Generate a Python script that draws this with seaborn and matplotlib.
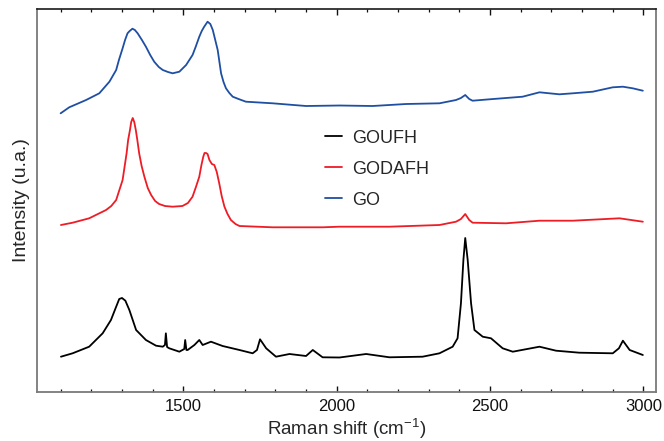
import matplotlib
matplotlib.use("Agg")
import matplotlib.pyplot as plt
from matplotlib.ticker import MultipleLocator, NullLocator
import numpy as np
import pandas as pd
import seaborn as sns

# Raman spectra (arbitrary intensity units, each relative to its own baseline)
go_shift = [1100, 1128, 1183, 1226, 1259, 1281, 1290, 1302, 1310, 1318, 1325, 1334,
            1342, 1351, 1365, 1378, 1392, 1405, 1420, 1433, 1450, 1465, 1487, 1509,
            1530, 1540, 1552, 1560, 1568, 1579, 1588, 1596, 1604, 1612, 1623, 1631,
            1639, 1650, 1661, 1680, 1704, 1791, 1900, 2009, 2117, 2226, 2335, 2389,
            2405, 2419, 2432, 2443, 2498, 2606, 2661, 2726, 2770, 2835, 2900, 2933,
            2965, 2998]
go_int = [28.4, 34.4, 41.7, 48.4, 60.0, 71.7, 81.7, 93.4, 101.7, 108.4, 110.7, 113.0,
          111.7, 108.4, 101.7, 95.0, 86.7, 80.0, 74.7, 71.7, 69.7, 68.4, 70.0, 76.7,
          86.7, 94.7, 105.0, 110.7, 115.0, 120.0, 117.7, 111.7, 101.7, 91.7, 68.4, 59.7,
          53.4, 48.7, 45.0, 42.7, 40.0, 38.4, 35.7, 36.2, 35.7, 37.7, 38.4, 41.7,
          43.7, 46.7, 42.7, 41.0, 42.4, 45.0, 49.4, 47.4, 48.4, 50.0, 54.4, 55.0,
          53.4, 51.0]

godafh_shift = [1101, 1139, 1193, 1248, 1265, 1281, 1302, 1315, 1320, 1326, 1330, 1335,
                1340, 1345, 1350, 1356, 1364, 1373, 1384, 1395, 1408, 1421, 1440, 1465,
                1497, 1515, 1530, 1541, 1552, 1559, 1565, 1569, 1574, 1579, 1585, 1593,
                1601, 1609, 1617, 1625, 1634, 1644, 1655, 1670, 1683, 1791, 1954, 2009,
                2172, 2335, 2389, 2405, 2419, 2432, 2443, 2552, 2661, 2770, 2922, 2998]
godafh_int = [36.7, 39.0, 43.4, 51.7, 55.7, 61.7, 81.7, 108.4, 121.7, 131.7, 139.7, 143.7,
              139.7, 131.7, 121.7, 108.4, 95.7, 85.0, 73.7, 66.7, 60.7, 57.7, 55.7, 55.0,
              55.7, 58.7, 65.0, 74.7, 85.0, 96.7, 105.0, 108.7, 108.7, 107.7, 101.7, 97.7,
              96.7, 89.7, 78.4, 65.7, 55.0, 47.7, 41.7, 37.7, 35.7, 34.4, 34.4, 35.0,
              35.0, 36.7, 40.0, 42.7, 47.7, 41.7, 39.0, 38.4, 41.0, 41.0, 43.4, 40.0]

goufh_shift = [1101, 1139, 1193, 1237, 1264, 1281, 1291, 1300, 1311, 1324, 1346, 1378,
               1411, 1433, 1440, 1443, 1447, 1454, 1487, 1497, 1503, 1506, 1510, 1514,
               1536, 1552, 1563, 1590, 1628, 1683, 1726, 1740, 1750, 1770, 1802, 1846,
               1900, 1922, 1954, 2009, 2096, 2172, 2280, 2335, 2378, 2394, 2405, 2413,
               2419, 2427, 2438, 2449, 2476, 2503, 2541, 2574, 2661, 2715, 2791, 2900,
               2920, 2933, 2955, 2998]
goufh_int = [35.0, 38.4, 45.0, 58.4, 71.7, 85.0, 92.7, 93.7, 91.0, 81.7, 61.7, 51.7,
             46.0, 45.0, 46.7, 58.4, 44.7, 43.4, 40.0, 41.7, 42.7, 51.7, 41.7, 41.7,
             46.7, 51.7, 46.7, 50.0, 45.7, 41.7, 38.4, 41.7, 52.4, 43.4, 35.0, 37.7,
             35.7, 41.7, 34.4, 34.2, 37.7, 34.4, 35.0, 38.4, 45.0, 53.4, 88.4, 131.7,
             153.7, 131.7, 88.4, 61.7, 55.0, 53.4, 43.4, 40.0, 45.0, 41.0, 39.0, 38.4,
             43.4, 51.0, 41.7, 36.7]

labels = ["GOUFH", "GODAFH", "GO"]
colors = {"GOUFH": "#000000", "GODAFH": "#ee1c25", "GO": "#1f4fa3"}
stack_offset = {"GOUFH": 0.0, "GODAFH": 130.0, "GO": 250.0}

frames = []
for name, sx, sy in [("GOUFH", goufh_shift, goufh_int),
                     ("GODAFH", godafh_shift, godafh_int),
                     ("GO", go_shift, go_int)]:
    frames.append(pd.DataFrame({
        "shift": sx,
        "intensity": np.asarray(sy) + stack_offset[name],
        "sample": name,
    }))
df = pd.concat(frames, ignore_index=True)

sns.set_style("white")
plt.rcParams["font.family"] = ["Liberation Sans", "DejaVu Sans"]
plt.rcParams["mathtext.default"] = "regular"

fig = plt.figure(figsize=(6.64, 4.41), dpi=100)
ax = fig.add_axes([0.0553, 0.1118, 0.9327, 0.8671])

sns.lineplot(data=df, x="shift", y="intensity", hue="sample", hue_order=labels,
             palette=colors, linewidth=1.3, sort=True, estimator=None, ax=ax)

ax.set_xlim(1022, 3041)
ax.set_ylim(0, 382.4)

ax.xaxis.set_major_locator(MultipleLocator(500))
ax.xaxis.set_minor_locator(MultipleLocator(100))
ax.yaxis.set_major_locator(NullLocator())
ax.tick_params(axis="x", which="both", direction="in", top=True, bottom=True,
               labelsize=12, pad=5, colors="#111111")
ax.tick_params(axis="x", which="major", length=4, width=1.0)
ax.tick_params(axis="x", which="minor", length=2.5, width=0.9)

for side in ["left", "right", "bottom"]:
    ax.spines[side].set_color("#7a7a7a")
    ax.spines[side].set_linewidth(1.3)
ax.spines["top"].set_color("#1a1a1a")
ax.spines["top"].set_linewidth(1.2)

ax.set_xlabel(r"Raman shift (cm$^{-1}$)", fontsize=13.5, labelpad=2)
ax.set_ylabel("Intensity (u.a.)", fontsize=14, labelpad=5)

ax.legend(loc="upper left", bbox_to_anchor=(0.44, 0.728), frameon=False,
          fontsize=13, handlelength=0.9, handletextpad=0.6, labelspacing=0.78)

fig.savefig("out.png", dpi=100)
